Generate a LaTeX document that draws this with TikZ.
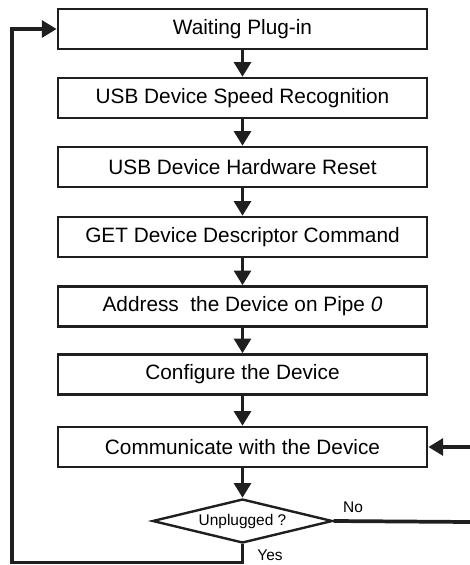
\documentclass[tikz,border=0pt]{standalone}
\usepackage{fontspec}
\setmainfont{Liberation Sans}
\usepackage{tikz}
\usetikzlibrary{arrows.meta,shapes.geometric}

\begin{document}
\begin{tikzpicture}[x=0.75pt,y=-0.75pt,
  stepbox/.style={draw=black!88, line width=1.8pt, align=center, fill=white,
    minimum width=277pt, minimum height=30pt, inner sep=0pt,
    font=\fontsize{15.6}{18}\selectfont},
  decision/.style={draw=black!88, line width=1.8pt, shape=diamond, aspect=4,
    minimum width=135pt, minimum height=33pt, inner sep=0pt, fill=white,
    font=\fontsize{11.6}{13}\selectfont},
  tag/.style={font=\fontsize{11.6}{13}\selectfont, inner sep=0pt},
  flow/.style={-{Triangle[length=11pt,width=12.5pt]}, line width=2.8pt, draw=black!88},
  wire/.style={line width=2.8pt, draw=black!88}
]
\useasboundingbox (0,0) rectangle (469,565);

\node[stepbox] (wait) at (242.5,29) {Waiting Plug-in};
\node[stepbox] (speed) at (242.5,98) {USB Device Speed Recognition};
\node[stepbox] (reset) at (242.5,167) {USB Device Hardware Reset};
\node[stepbox] (getdesc) at (242.5,237) {GET Device Descriptor Command};
\node[stepbox] (addr) at (242.5,306.5) {Address\ \ the Device on Pipe \textit{0}};
\node[stepbox] (config) at (242.5,374.5) {Configure the Device};
\node[stepbox] (talk) at (242.5,447) {Communicate with the Device};
\node[decision] (check) at (242.5,521) {Unplugged ?};
\node[tag] (no) at (353,507) {No};
\node[tag] (yes) at (270,555) {Yes};

\coordinate (yescorner) at (12,562.5);
\coordinate (noend) at (470,522);
\coordinate (loopin) at (470,447);

% main sequence
\draw[flow] (wait.south) -- (speed.north);
\draw[flow] (speed.south) -- (reset.north);
\draw[flow] (reset.south) -- (getdesc.north);
\draw[flow] (getdesc.south) -- (addr.north);
\draw[flow] (addr.south) -- (config.north);
\draw[flow] (config.south) -- (talk.north);
\draw[flow] (talk.south) -- (check.north);

% loops
\draw[flow] (check.south) |- (yescorner) |- (wait.west);
\draw[wire] (check.east) -- (noend);
\draw[flow] (loopin) -- (talk.east);
\end{tikzpicture}
\end{document}
